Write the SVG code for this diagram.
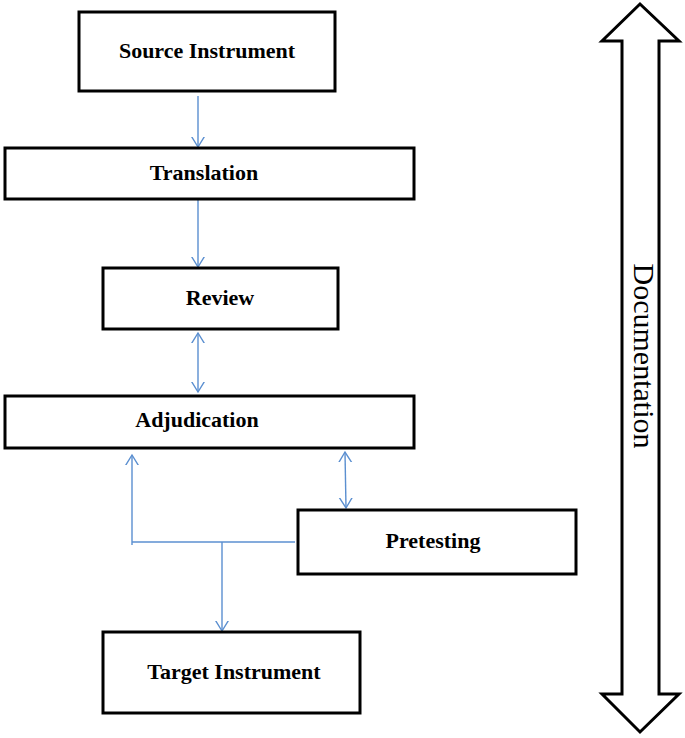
<svg xmlns="http://www.w3.org/2000/svg" width="685" height="738" viewBox="0 0 685 738">
<style>
.box{fill:#fff;stroke:#000;stroke-width:3}
.lbl{font-family:"Liberation Serif","Times New Roman",serif;font-weight:bold;font-size:22px;fill:#000;text-anchor:middle}
.con{fill:none;stroke:#5b8fd0;stroke-width:1.4}
.doc{font-family:"Liberation Serif","Times New Roman",serif;font-size:30px;fill:#000;text-anchor:middle}
</style>
<defs>
<marker id="ah" viewBox="0 0 20 20" refX="10" refY="10" markerWidth="20" markerHeight="20" markerUnits="userSpaceOnUse" orient="auto-start-reverse">
<path d="M-3,2 L10,10 L-3,18" fill="none" stroke="#5b8fd0" stroke-width="1.4"/>
</marker>
</defs>
<rect width="685" height="738" fill="#fff"/>
<g id="connectors">
<line class="con" x1="198" y1="96" x2="198" y2="147" marker-end="url(#ah)"/>
<line class="con" x1="198" y1="200" x2="198" y2="267" marker-end="url(#ah)"/>
<line class="con" x1="198" y1="333" x2="198" y2="392" marker-start="url(#ah)" marker-end="url(#ah)"/>
<line class="con" x1="345" y1="452" x2="346" y2="508" marker-start="url(#ah)" marker-end="url(#ah)"/>
<polyline class="con" points="295,542 132,542"/>
<line class="con" x1="132" y1="545" x2="132" y2="455" marker-end="url(#ah)"/>
<line class="con" x1="222" y1="542" x2="222" y2="631" marker-end="url(#ah)"/>
</g>
<g id="source"><rect class="box" x="79" y="12" width="256" height="79"/><text class="lbl" x="207" y="58">Source Instrument</text></g>
<g id="translation"><rect class="box" x="5" y="148" width="409" height="51"/><text class="lbl" x="204" y="180">Translation</text></g>
<g id="review"><rect class="box" x="103" y="268" width="235" height="61"/><text class="lbl" x="220" y="305">Review</text></g>
<g id="adjudication"><rect class="box" x="5" y="396" width="409" height="52"/><text class="lbl" x="197" y="427">Adjudication</text></g>
<g id="pretesting"><rect class="box" x="298" y="510" width="278" height="64"/><text class="lbl" x="433" y="548">Pretesting</text></g>
<g id="target"><rect class="box" x="103" y="632" width="257" height="81"/><text class="lbl" x="234" y="679">Target Instrument</text></g>
<g id="documentation">
<polygon points="640,4 679,41 659,41 659,694 679,694 640,732 602,694 622,694 622,41 602,41" fill="#fff" stroke="#000" stroke-width="3" stroke-linejoin="miter"/>
<text class="doc" transform="translate(634,356) rotate(90)" x="0" y="0">Documentation</text>
</g>
</svg>
